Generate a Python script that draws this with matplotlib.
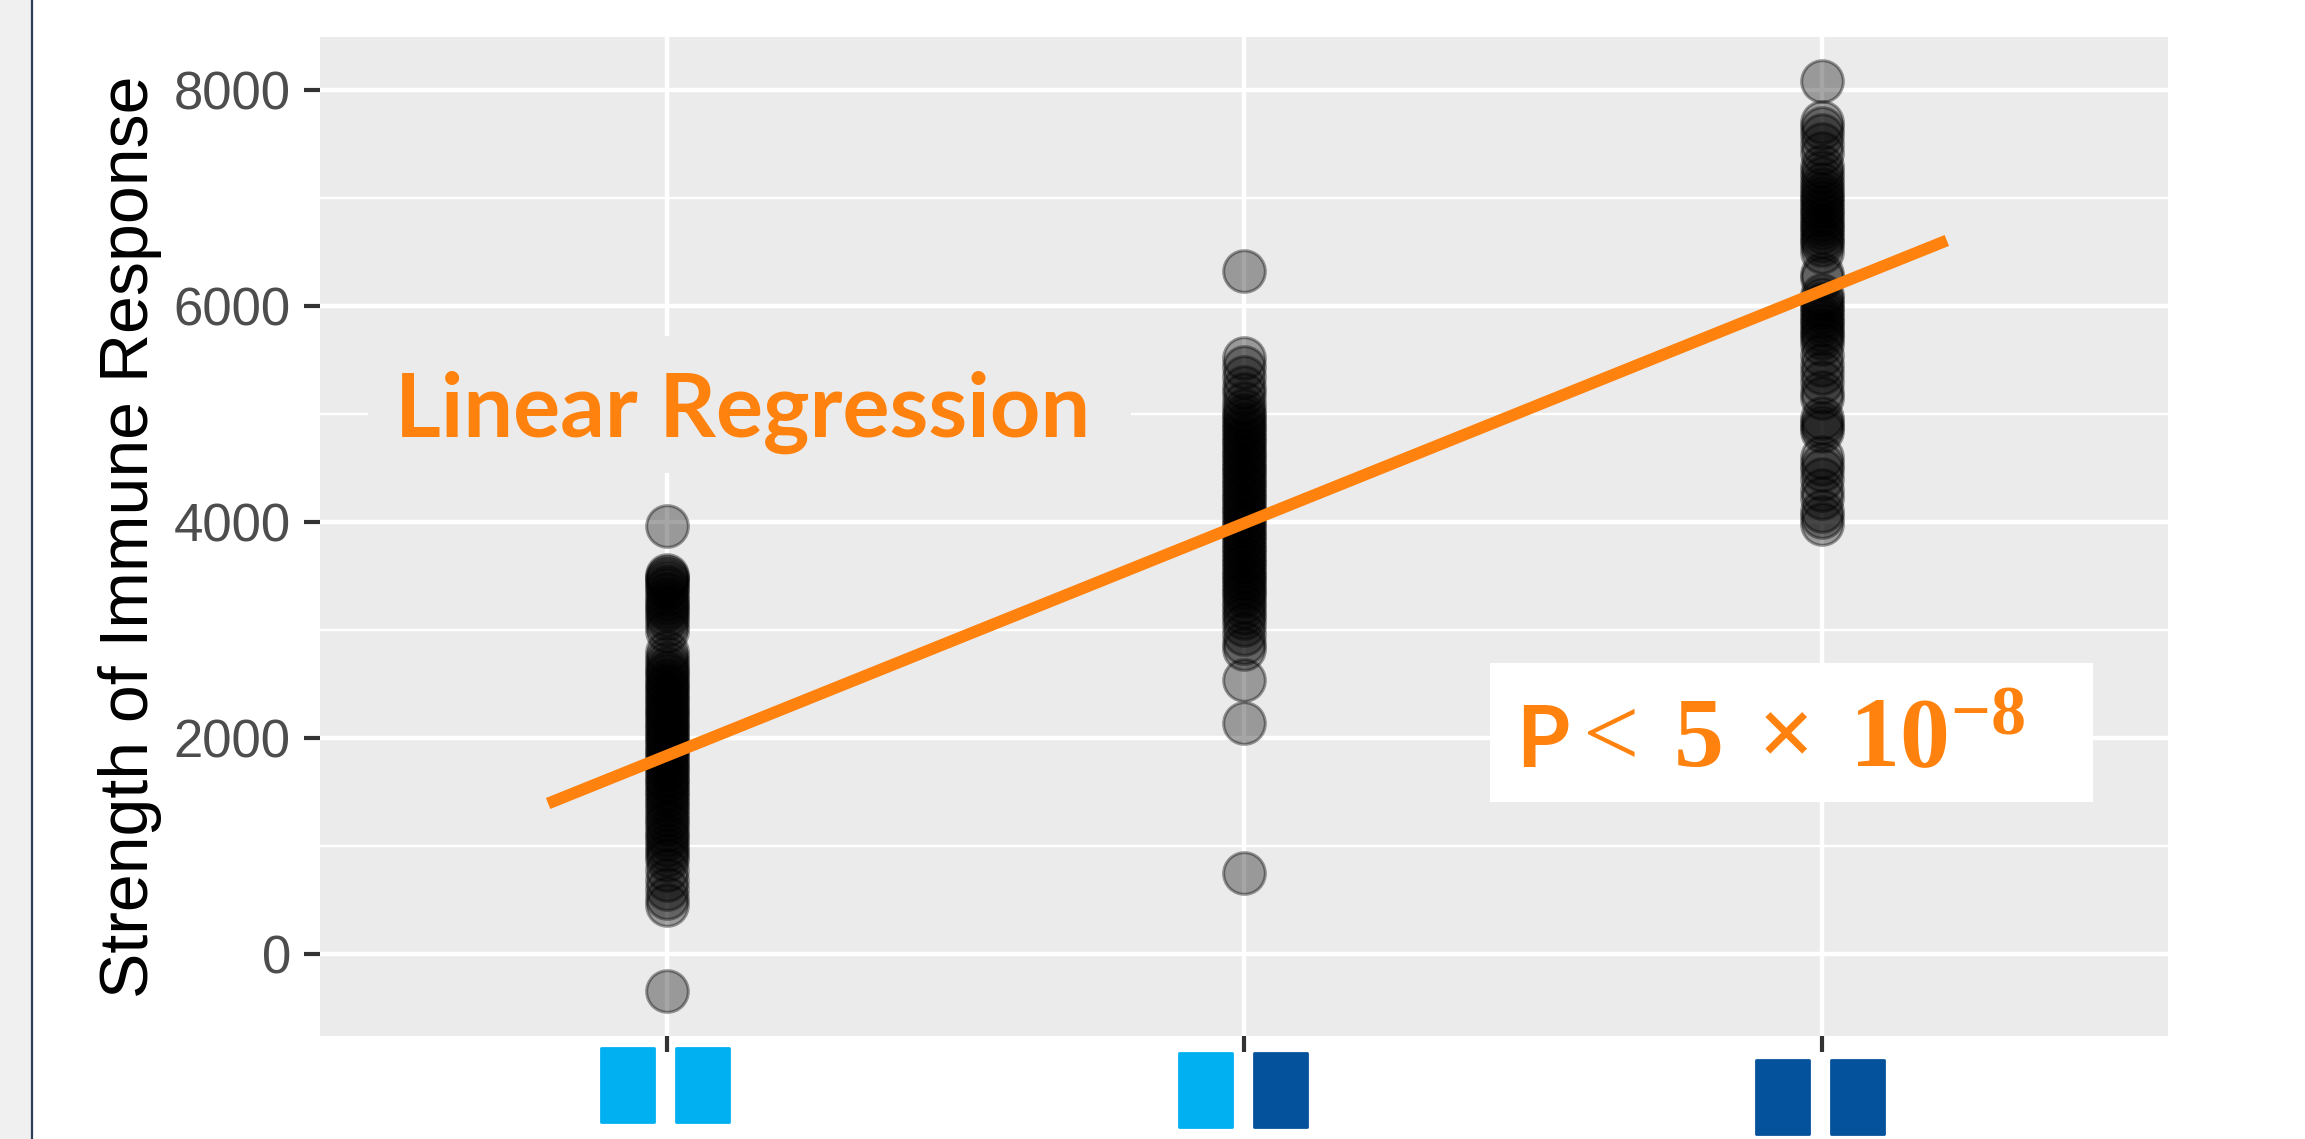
"""
plot.py
-------
Strength of immune response by genotype with a linear regression line.
Saves the figure as out.png (2305 x 1139 px).
"""

import matplotlib

matplotlib.use("Agg")

import matplotlib.pyplot as plt
from matplotlib.patches import Rectangle
from matplotlib.lines import Line2D
import matplotlib.transforms as mtransforms

# --- Data ---
group_pos = [1, 2, 3]

group1 = [3960,
          3510, 3490, 3470, 3440, 3410, 3380, 3330, 3290, 3250, 3210, 3180,
          3140, 3100, 3050, 2990, 2800, 2740, 2690, 2650, 2610, 2580, 2540,
          2500, 2470, 2430, 2400, 2360, 2330, 2290, 2260, 2220, 2190, 2150,
          2120, 2080, 2050, 2010, 1980, 1940, 1900, 1870, 1830, 1800, 1760,
          1720, 1690, 1650, 1610, 1580, 1540, 1500, 1460, 1420, 1380, 1330,
          1290, 1240, 1200, 1150, 1100, 1060, 1010, 960, 920, 870, 780, 680,
          600, 520, 450,
          -340]
group2 = [6320,
          5520, 5430, 5340, 5250, 5180, 5100, 5040, 4990, 4950, 4910, 4870,
          4830, 4790, 4750, 4710, 4670, 4630, 4590, 4550, 4510, 4470, 4430,
          4390, 4350, 4310, 4270, 4230, 4190, 4150, 4110, 4070, 4030, 3990,
          3950, 3910, 3870, 3830, 3790, 3750, 3710, 3670, 3630, 3590, 3550,
          3510, 3470, 3430, 3390, 3350, 3310, 3260, 3210, 3160, 3110, 3050,
          2960, 2880, 2820, 2540, 2140,
          750]
group3 = [8080,
          7700, 7650, 7580, 7500, 7420, 7300, 7240, 7180, 7130, 7080, 7040,
          7000, 6960, 6920, 6880, 6840, 6800, 6760, 6720, 6680, 6640, 6600,
          6560, 6500, 6300, 6260, 6100, 6060, 6020, 5980, 5940, 5900, 5860,
          5820, 5780, 5740, 5700, 5650, 5550, 5450, 5380, 5300, 5200, 5150,
          4960, 4920, 4880, 4840, 4600, 4540, 4480, 4400, 4300, 4220, 4100,
          4050, 3980]

# regression line as drawn (start / end)
reg_x = [0.795, 3.217]
reg_y = [1393, 6606]

y_ticks = [0, 2000, 4000, 6000, 8000]
y_minor = [1000, 3000, 5000, 7000]

# genotype icons under each tick (two alleles per group)
LIGHT = "#00B0F0"
DARK = "#05529C"
allele_colors = [(LIGHT, LIGHT), (LIGHT, DARK), (DARK, DARK)]

ORANGE = "#FF820F"
PANEL = "#EBEBEB"

plt.rcParams["mathtext.fontset"] = "custom"
plt.rcParams["mathtext.rm"] = "Liberation Serif"
plt.rcParams["mathtext.bf"] = "Liberation Serif:bold"
plt.rcParams["mathtext.it"] = "Liberation Serif:italic"

W, H = 2305, 1139
fig = plt.figure(figsize=(W / 100, H / 100), dpi=100)

# grey strip + thin frame line on the far left
fig.patches.append(Rectangle((0, 0), 31 / W, 1, transform=fig.transFigure,
                             facecolor="#F0F0F0", edgecolor="none"))
fig.lines.append(Line2D([32 / W, 32 / W], [0, 1], transform=fig.transFigure,
                        color="#2E3D5C", linewidth=1.6))

ax = fig.add_axes([320 / W, 1 - 1036 / H, 1848 / W, 999 / H])
ax.set_facecolor(PANEL)
for sp in ax.spines.values():
    sp.set_visible(False)

ax.set_xlim(0.4, 3.6)
ax.set_ylim(-760, 8490)

# --- grid (ggplot style) ---
for v in y_minor:
    ax.axhline(v, color="white", linewidth=1.7, zorder=0.5)
for v in y_ticks:
    ax.axhline(v, color="white", linewidth=3.2, zorder=0.6)
for x in group_pos:
    ax.axvline(x, color="white", linewidth=3.2, zorder=0.6)

# --- ticks ---
ax.set_yticks(y_ticks)
ax.set_yticklabels([str(v) for v in y_ticks])
ax.set_xticks(group_pos)
ax.set_xticklabels([])
ax.tick_params(axis="both", length=11.5, width=3, color="#333333", pad=9.5,
               labelsize=38, labelcolor="#4D4D4D",
               labelfontfamily="Liberation Sans")

fig.text(130 / W, 1 - 537 / H, "Strength of Immune Response", rotation=90,
         ha="center", va="center", family="Liberation Sans", fontsize=49,
         color="black")

# --- points ---
for x, vals in zip(group_pos, [group1, group2, group3]):
    ax.plot([x] * len(vals), vals, linestyle="none", marker="o",
            markersize=30, markerfacecolor=(0, 0, 0, 0.35),
            markeredgecolor=(0, 0, 0, 0.38), markeredgewidth=2.2, zorder=2)

# --- regression line ---
ax.plot(reg_x, reg_y, color=ORANGE, linewidth=8.5, solid_capstyle="butt",
        zorder=3)

# --- "Linear Regression" label on a panel-coloured box ---
ax.add_patch(Rectangle((0.4835, 4457), 1.804 - 0.4835, 5726 - 4457,
                       facecolor=PANEL, edgecolor="none", zorder=1))
ax.text(0.530, 4790, "Linear Regression", family="Lato", weight="bold",
        fontsize=63.5, color=ORANGE, ha="left", va="baseline", zorder=4)

# --- p-value in a white box ---
ax.add_patch(Rectangle((2.426, 1411), 3.470 - 2.426, 2698 - 1411,
                       facecolor="white", edgecolor="none", zorder=1))
ax.text(2.471, 1735, "P", family="Lato", weight="bold", fontsize=62,
        color=ORANGE, ha="left", va="baseline", zorder=4)
ax.text(2.5615, 1735, r"$<\;\mathbf{5\;\times\;10^{-8}}$", fontsize=72,
        color=ORANGE, ha="left", va="baseline", zorder=4)

# --- genotype icons below the x ticks ---
trans = mtransforms.blended_transform_factory(ax.transData, ax.transAxes)
icon_top = [-0.012, -0.017, -0.024]
icon_h = 0.074
icon_w = 0.092
for x, cols, top in zip(group_pos, allele_colors, icon_top):
    for dx, c in zip([-0.113, 0.017], cols):
        ax.add_patch(Rectangle((x + dx, top - icon_h), icon_w, icon_h,
                               transform=trans, facecolor=c, edgecolor=c,
                               linewidth=2, joinstyle="round", clip_on=False))

fig.savefig("out.png", dpi=100)
plt.close(fig)
